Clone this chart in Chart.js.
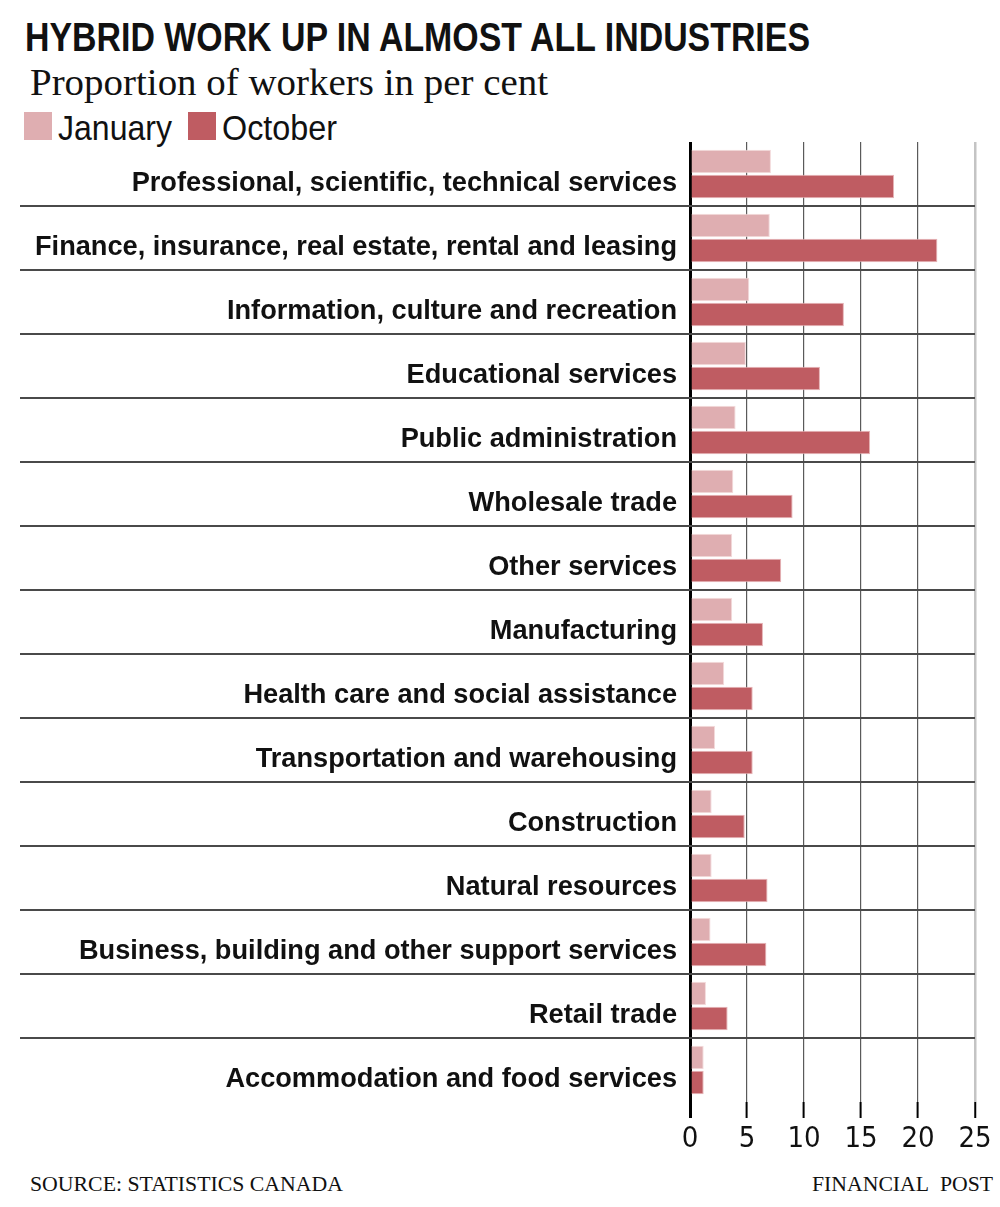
<!DOCTYPE html>
<html>
<head>
<meta charset="utf-8">
<script src="https://cdn.jsdelivr.net/npm/chart.js@4.4.1/dist/chart.umd.min.js"></script>
<style>
  html, body { margin: 0; padding: 0; background: #fff; }
  body { width: 1000px; height: 1207px; position: relative; overflow: hidden; }
  .t { position: absolute; white-space: nowrap; color: #111; line-height: 1; }
  #title { left: 25px; top: 17px; font-family: 'Liberation Sans', Arial, sans-serif; font-size: 41px; font-weight: bold; transform-origin: 0 0; }
  #subtitle { left: 30px; top: 63px; font-family: 'Liberation Serif', 'DejaVu Serif', serif; font-size: 38px; transform-origin: 0 0; }
  .sw { position: absolute; top: 112px; width: 28px; height: 28px; }
  .lt { top: 110px; font-family: 'Liberation Sans', Arial, sans-serif; font-size: 35px; transform-origin: 0 0; }
  .foot { top: 1174px; font-family: 'Liberation Serif', 'DejaVu Serif', serif; font-size: 21px; }
  #chartWrap { position: absolute; left: 0; top: 132px; width: 1000px; height: 1040px; }
</style>
</head>
<body>
<div id="title" class="t">HYBRID WORK UP IN ALMOST ALL INDUSTRIES</div>
<div id="subtitle" class="t">Proportion of workers in per cent</div>
<div id="sw0" class="sw" style="left:24px;"></div>
<div id="lt0" class="t lt" style="left:58px;"></div>
<div id="sw1" class="sw" style="left:188px;"></div>
<div id="lt1" class="t lt" style="left:222px;"></div>
<div id="src" class="t foot" style="left:30px; transform-origin:0 0;">SOURCE: STATISTICS CANADA</div>
<div id="fp" class="t foot" style="right:7px; transform-origin:100% 0;">FINANCIAL&nbsp; POST</div>
<div id="chartWrap"><canvas id="c" width="1000" height="1040"></canvas></div>
<script>
const categories = [
  "Professional, scientific, technical services",
  "Finance, insurance, real estate, rental and leasing",
  "Information, culture and recreation",
  "Educational services",
  "Public administration",
  "Wholesale trade",
  "Other services",
  "Manufacturing",
  "Health care and social assistance",
  "Transportation and warehousing",
  "Construction",
  "Natural resources",
  "Business, building and other support services",
  "Retail trade",
  "Accommodation and food services"
];
const january = [7.1, 7.0, 5.2, 4.9, 4.0, 3.8, 3.7, 3.7, 3.0, 2.2, 1.9, 1.9, 1.8, 1.4, 1.2];
const october = [17.9, 21.7, 13.5, 11.4, 15.8, 9.0, 8.0, 6.4, 5.5, 5.5, 4.8, 6.8, 6.7, 3.3, 1.2];
const seriesNames = ["January", "October"];
const xTicks = [0, 5, 10, 15, 20, 25];

const COL_JAN = '#dfaeb1';
const COL_OCT = '#bf5c62';

// legend + text fitting (HTML)
document.getElementById('sw0').style.background = COL_JAN;
document.getElementById('sw1').style.background = COL_OCT;
document.getElementById('lt0').textContent = seriesNames[0];
document.getElementById('lt1').textContent = seriesNames[1];
function fitWidth(id, target) {
  const el = document.getElementById(id);
  const w = el.getBoundingClientRect().width;
  el.style.transform = 'scaleX(' + (target / w) + ')';
}
fitWidth('title', 785);
fitWidth('subtitle', 518);
fitWidth('lt0', 114);
fitWidth('lt1', 115);
fitWidth('src', 313);
fitWidth('fp', 181);

const LABEL_FONT = "bold 28px 'Liberation Sans', Arial, sans-serif";
const LABEL_RIGHT_GAP = 13;   // gap between label end and axis
const LABEL_MAX_W = 642;      // rendered width of the longest label

const categoryLabels = {
  id: 'categoryLabels',
  afterDraw(chart) {
    const y = chart.scales.y, ctx = chart.ctx, area = chart.chartArea;
    ctx.save();
    ctx.font = LABEL_FONT;
    let maxW = 0;
    categories.forEach(l => { maxW = Math.max(maxW, ctx.measureText(l).width); });
    const sx = LABEL_MAX_W / maxW;
    ctx.fillStyle = '#111';
    ctx.textAlign = 'right';
    ctx.textBaseline = 'alphabetic';
    categories.forEach((l, i) => {
      const py = y.getPixelForValue(i);
      ctx.save();
      ctx.translate(area.left - LABEL_RIGHT_GAP, py + 17);
      ctx.scale(sx, 1);
      ctx.fillText(l, 0, 0);
      ctx.restore();
    });
    ctx.restore();
  }
};

const separators = {
  id: 'separators',
  afterDatasetsDraw(chart) {
    const y = chart.scales.y, ctx = chart.ctx, area = chart.chartArea;
    ctx.save();
    ctx.strokeStyle = '#4a4a4a';
    ctx.lineWidth = 2;
    for (let i = 0; i < categories.length - 1; i++) {
      const py = Math.round((y.getPixelForValue(i) + y.getPixelForValue(i + 1)) / 2);
      ctx.beginPath();
      ctx.moveTo(20, py);
      ctx.lineTo(area.right, py);
      ctx.stroke();
    }
    ctx.restore();
  }
};

new Chart(document.getElementById('c'), {
  type: 'bar',
  data: {
    labels: categories,
    datasets: [
      { label: seriesNames[0], data: january, backgroundColor: COL_JAN, borderColor: '#f3dadb', borderWidth: 1,
        categoryPercentage: 0.78, barPercentage: 0.94 },
      { label: seriesNames[1], data: october, backgroundColor: COL_OCT, borderColor: '#e6b3b6', borderWidth: 1,
        categoryPercentage: 0.78, barPercentage: 0.94 }
    ]
  },
  options: {
    indexAxis: 'y',
    responsive: false,
    animation: false,
    layout: { padding: { left: 0, right: 25, top: 10, bottom: 20 } },
    plugins: { legend: { display: false }, title: { display: false }, tooltip: { enabled: false } },
    scales: {
      x: {
        type: 'linear', min: 0, max: 25,
        afterBuildTicks(scale) { scale.ticks = xTicks.map(v => ({ value: v })); },
        afterFit(scale) { scale.height = 50; scale.paddingLeft = 0; scale.paddingRight = 0; },
        border: { display: false },
        grid: {
          drawTicks: true, tickLength: 16,
          color: ctx => ctx.tick && ctx.tick.value === 0 ? '#000' : (ctx.tick && ctx.tick.value === 25 ? '#c4c4c4' : '#5a5a5a'),
          lineWidth: ctx => ctx.tick && ctx.tick.value === 0 ? 3 : (ctx.tick && ctx.tick.value === 25 ? 2.5 : 1.2),
          tickColor: '#000',
          tickWidth: ctx => ctx.tick && ctx.tick.value === 0 ? 3 : 2
        },
        ticks: { color: '#111', padding: 4, font: { family: "'DejaVu Sans Condensed', 'Liberation Sans', sans-serif", size: 29 }, callback: v => String(v) }
      },
      y: {
        afterFit(scale) { scale.width = 690; scale.paddingTop = 0; scale.paddingBottom = 0; },
        border: { display: false },
        grid: { display: false, drawTicks: false },
        ticks: { display: false, autoSkip: false }
      }
    }
  },
  plugins: [separators, categoryLabels]
});
</script>
</body>
</html>
